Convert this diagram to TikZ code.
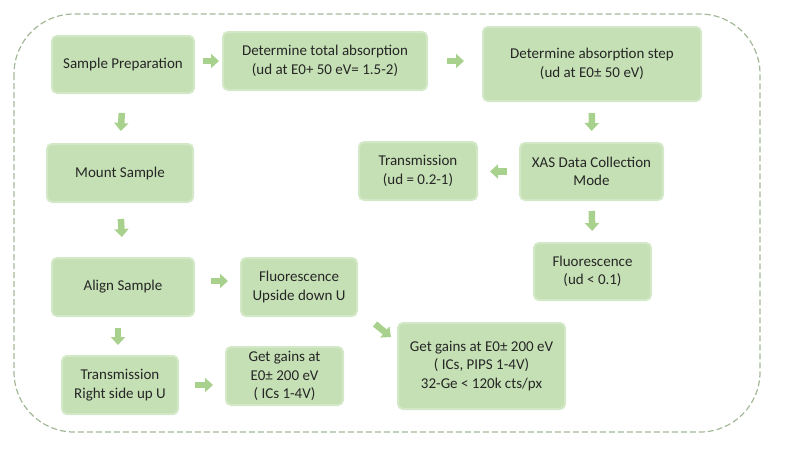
\documentclass[tikz,border=0pt]{standalone}
\usepackage{fontspec}
\setmainfont{Carlito}
\usetikzlibrary{arrows.meta,calc}
\definecolor{boxgreen}{HTML}{C5E0B4}
\definecolor{glowgreen}{HTML}{D3E8C6}
\definecolor{arrowgreen}{HTML}{A9D18E}
\definecolor{bordergreen}{HTML}{A3B899}
\definecolor{txt}{HTML}{262626}
\begin{document}
\begin{tikzpicture}[x=1pt,y=-1pt,
  box/.style={fill=boxgreen, draw=glowgreen, line width=2pt, rounded corners=5pt,
    align=center, inner sep=2pt, text=txt,
    font=\fontsize{15}{18.5}\selectfont},
  barrow/.style={draw=arrowgreen, line width=6.5pt,
    -{Triangle[length=8pt,width=14pt]}}]
\useasboundingbox (0,0) rectangle (800,456);
\draw[bordergreen, line width=1.2pt, dash pattern=on 6pt off 3pt, rounded corners=60pt]
  (14,14) rectangle (760,432);

\node[box, minimum width=142pt, minimum height=57pt] (prep) at (123,64.5) {Sample Preparation};
\node[box, minimum width=204pt, minimum height=58pt] (tot) at (325,61) {Determine total absorption\\(ud at E0+ 50 eV= 1.5-2)};
\node[box, minimum width=218pt, minimum height=74pt] (step) at (592,64) {Determine absorption step\\(ud at E0± 50 eV)};
\node[box, minimum width=146pt, minimum height=58pt] (mount) at (120,173) {Mount Sample};
\node[box, minimum width=118pt, minimum height=58pt] (trans) at (418,171) {Transmission\\(ud = 0.2-1)};
\node[box, minimum width=143pt, minimum height=57pt] (xas) at (591.5,171.5) {XAS Data Collection\\Mode};
\node[box, minimum width=117pt, minimum height=57pt] (fluo) at (592.5,271.5) {Fluorescence\\(ud < 0.1)};
\node[box, minimum width=142pt, minimum height=58pt] (align) at (123,287) {Align Sample};
\node[box, minimum width=116pt, minimum height=58pt] (fud) at (299,287) {Fluorescence\\Upside down U};
\node[box, minimum width=116pt, minimum height=58pt] (trsu) at (120,385) {Transmission\\Right side up U};
\node[box, minimum width=117pt, minimum height=58pt] (gsmall) at (284.5,376) {Get gains at\\E0± 200 eV\\( ICs 1-4V)};
\node[box, minimum width=167pt, minimum height=86pt] (gbig) at (481.5,366) {Get gains at E0± 200 eV\\( ICs, PIPS 1-4V)\\32-Ge < 120k cts/px};

\draw[barrow, shorten <=8pt, shorten >=3pt] (prep.east|-tot.west) -- (tot.west);
\draw[barrow, shorten <=19pt, shorten >=18pt] (tot.east) -- (step.west|-tot.east);
\draw[barrow, shorten <=11pt, shorten >=11pt] (step.south) -- (xas.north);
\draw[barrow, shorten <=12pt, shorten >=12pt] (xas.west) -- (trans.east|-xas.west);
\draw[barrow, shorten <=10pt, shorten >=11pt] (xas.south) -- (fluo.north);
\draw[barrow, shorten <=19pt, shorten >=12pt] (prep.south) -- (mount.north);
\draw[barrow, shorten <=16pt, shorten >=20pt] (mount.south) -- (align.north);
\draw[barrow, shorten <=16pt, shorten >=12pt] ([yshift=6pt]align.east) -- ([yshift=6pt]fud.west);
\draw[barrow, shorten <=11pt, shorten >=10pt] ([xshift=-2pt]trsu.north|-align.south) -- ([xshift=-2pt]trsu.north);
\draw[barrow, shorten <=16pt, shorten >=12pt] (trsu.east) -- (gsmall.west|-trsu.east);
\draw[barrow] ($(fud.south east)+(17,7)$) -- ($(gbig.north west)+(-6,15)$);
\end{tikzpicture}
\end{document}
